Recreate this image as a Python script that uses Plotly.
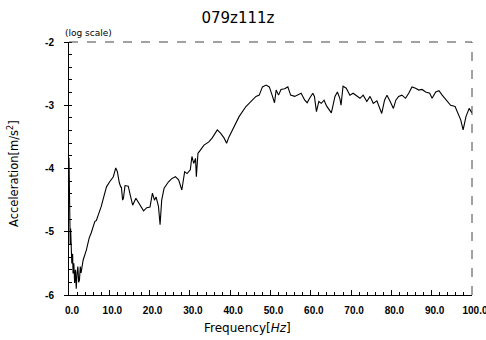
import plotly.graph_objects as go

freq = [0.0, 0.05, 0.1, 0.2, 0.3, 0.4, 0.5, 0.7, 0.9, 1.0, 1.2, 1.4, 1.6, 1.8, 2.0, 2.2, 2.4, 2.6, 2.8, 3.0,
        3.5, 4.0, 4.3, 5.0, 5.5, 6.4, 6.8, 8.0, 9.3, 10.1, 11.0, 11.6, 12.0, 12.5, 12.9, 13.0, 13.3, 13.5,
        13.9, 14.7, 15.2, 15.8, 16.6, 17.6, 18.5, 19.3, 20.1, 20.7, 21.2, 21.6, 22.2, 22.6, 23.0, 23.6,
        24.7, 25.5, 26.4, 27.2, 28.0, 28.7, 29.3, 30.1, 30.5, 30.95, 31.4, 31.6, 32.0, 32.6, 33.5, 34.7,
        35.5, 36.8, 37.6, 38.5, 39.1, 39.7, 41.0, 42.2, 43.9, 45.1, 46.4, 47.2, 48.0, 48.9, 49.7, 50.4,
        51.0, 51.4, 52.0, 52.6, 53.5, 54.3, 55.0, 56.0, 56.8, 57.6, 58.5, 59.1, 59.7, 60.5, 60.9, 61.4,
        62.0, 62.6, 63.3, 63.9, 65.1, 66.0, 66.6, 67.2, 67.5, 68.0, 68.8, 69.7, 70.5, 71.4, 72.2, 73.0,
        73.9, 74.7, 75.5, 76.4, 77.0, 77.6, 78.3, 78.9, 79.7, 80.5, 81.1, 81.8, 82.6, 83.5, 84.3, 85.1,
        86.0, 86.8, 87.6, 88.5, 89.5, 90.1, 91.0, 91.8, 92.6, 93.6, 94.7, 95.8, 96.6, 97.2, 97.8, 98.5,
        99.3, 100.0]
accel = [-3.83, -4.3, -4.6, -4.9, -5.2, -4.95, -5.3, -5.5, -5.35, -5.66, -5.5, -5.81, -5.6, -5.9, -5.65,
         -5.55, -5.8, -5.76, -5.55, -5.65, -5.45, -5.35, -5.29, -5.1, -5.02, -4.84, -4.82, -4.6, -4.29,
         -4.21, -4.13, -3.99, -4.05, -4.23, -4.3, -4.29, -4.5, -4.47, -4.27, -4.28, -4.42, -4.58, -4.47,
         -4.58, -4.67, -4.62, -4.61, -4.39, -4.5, -4.45, -4.6, -4.89, -4.5, -4.31, -4.21, -4.16, -4.13,
         -4.18, -4.34, -4.05, -4.08, -4.02, -3.81, -3.92, -3.84, -4.13, -3.76, -3.71, -3.63, -3.58, -3.52,
         -3.39, -3.44, -3.52, -3.6, -3.5, -3.34, -3.18, -3.02, -2.94, -2.86, -2.84, -2.71, -2.68, -2.71,
         -2.84, -2.96, -2.76, -2.84, -2.75, -2.74, -2.71, -2.84, -2.86, -2.84, -2.81, -2.92, -2.96, -2.89,
         -2.81, -2.86, -3.10, -2.94, -2.97, -2.92, -3.01, -3.12, -2.86, -2.79, -2.89, -3.0, -2.70, -2.73,
         -2.84, -2.81, -2.86, -2.89, -2.84, -2.94, -2.86, -2.97, -2.93, -3.02, -3.13, -2.92, -2.84, -2.94,
         -3.05, -2.92, -2.86, -2.84, -2.89, -2.81, -2.71, -2.73, -2.76, -2.75, -2.79, -2.81, -2.89, -2.79,
         -2.77, -2.84, -2.92, -3.0, -3.02, -3.13, -3.23, -3.39, -3.18, -3.05, -3.12]

x_ticks = [0, 10, 20, 30, 40, 50, 60, 70, 80, 90, 100]
x_labels = ["0.0", "10.0", "20.0", "30.0", "40.0", "50.0", "60.0", "70.0", "80.0", "90.0", "100.0"]
y_ticks = [-2, -3, -4, -5, -6]
y_labels = ["-2", "-3", "-4", "-5", "-6"]

W, H = 486, 340
L, R, T, B = 69, 14, 42, 45
PW, PH = W - L - R, H - T - B

fig = go.Figure()
fig.add_trace(go.Scatter(x=freq, y=accel, mode="lines",
                         line=dict(color="black", width=1.1), showlegend=False))

font_ticks = dict(family="Liberation Sans Narrow, Liberation Sans, sans-serif", size=10,
                  color="black", weight="bold")

fig.update_layout(
    width=W, height=H,
    margin=dict(l=L, r=R, t=T, b=B),
    paper_bgcolor="white", plot_bgcolor="white",
    title=dict(text="079z111z", x=238 / W, xanchor="center", y=1 - 17.5 / H, yanchor="middle",
               font=dict(family="DejaVu Sans", size=15, color="black")),
    xaxis=dict(range=[0, 100], tickvals=x_ticks, ticktext=x_labels, tickfont=font_ticks,
               automargin=False, ticklabelshift=3, ticklabelstandoff=6, ticklabeloverflow="allow",
               showgrid=False, zeroline=False, showline=True, linecolor="black", linewidth=1,
               ticks="inside", ticklen=5, tickcolor="black",
               minor=dict(dtick=2, ticks="inside", ticklen=3, tickcolor="black", showgrid=False)),
    yaxis=dict(range=[-6, -2], tickvals=y_ticks, ticktext=y_labels, tickfont=font_ticks,
               automargin=False, ticklabelstandoff=8, ticklabeloverflow="allow",
               showgrid=False, zeroline=False, showline=True, linecolor="black", linewidth=1,
               ticks="outside", ticklen=4, tickcolor="black",
               minor=dict(dtick=0.2, ticks="inside", ticklen=3, tickcolor="black", showgrid=False)),
)

# dashed frame on top and right
fig.add_shape(type="line", xref="paper", yref="paper", x0=0, x1=1, y0=1, y1=1,
              line=dict(color="#444", width=1, dash="dash"))
fig.add_shape(type="line", xref="paper", yref="paper", x0=1, x1=1, y0=0, y1=1,
              line=dict(color="#444", width=1, dash="dash"))

fig.add_annotation(text="(log scale)", xref="paper", yref="paper", x=(63 - L) / PW,
                   y=1 + (T - 33) / PH, xanchor="left", yanchor="middle", showarrow=False,
                   font=dict(family="DejaVu Sans", size=9, color="black"))
fig.add_annotation(text="Frequency[<i>Hz</i>]", xref="paper", yref="paper", x=(247.5 - L) / PW,
                   y=-(327.5 - (T + PH)) / PH, xanchor="center", yanchor="middle", showarrow=False,
                   font=dict(family="DejaVu Sans", size=12, color="black"))
fig.add_annotation(text="Acceleration[m/s<sup>2</sup>]", xref="paper", yref="paper",
                   x=(13 - L) / PW, y=1 - (174 - T) / PH, xanchor="center", yanchor="middle",
                   textangle=-90, showarrow=False,
                   font=dict(family="DejaVu Sans", size=11.5, color="black"))

# remove the default page margin so the figure fills the 486x340 window exactly
fig.write_html("out.html", config={"displayModeBar": False},
               post_script="document.body.style.margin='0';document.body.style.overflow='hidden';")
